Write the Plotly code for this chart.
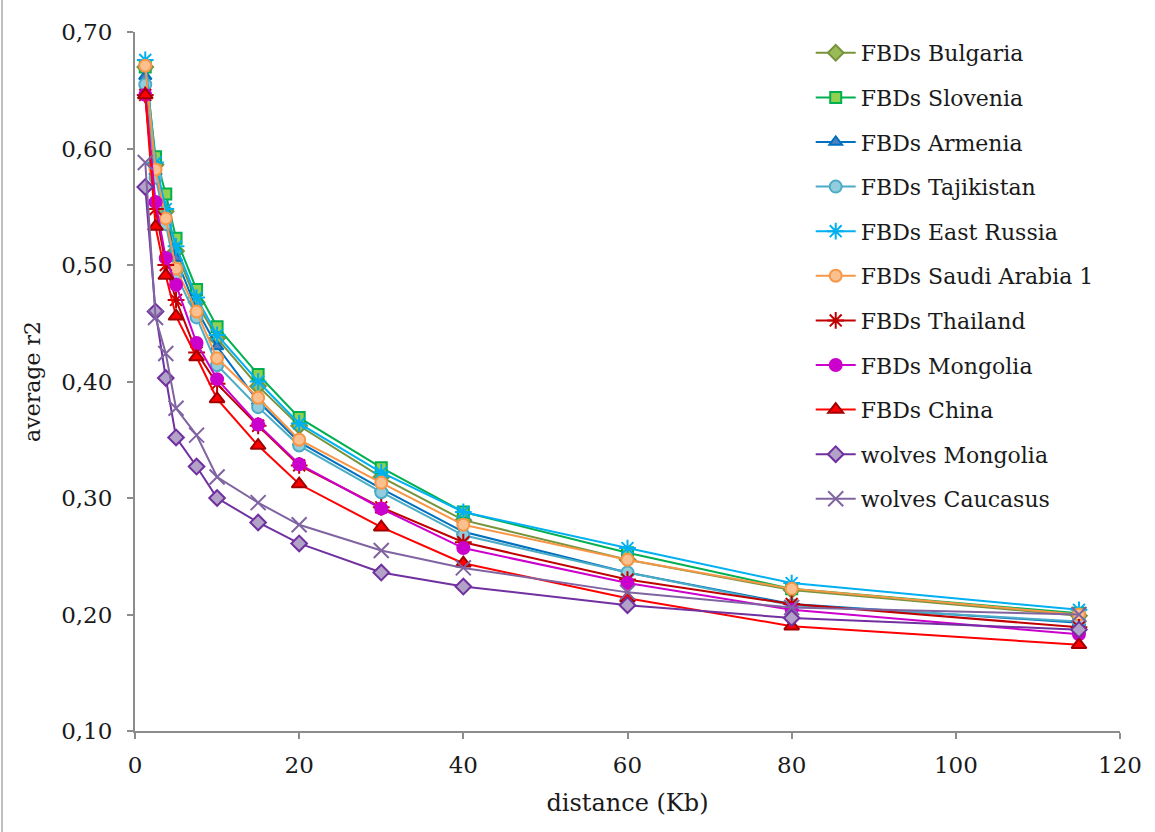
import plotly.graph_objects as go

distance_kb = [1.25, 2.5, 3.75, 5, 7.5, 10, 15, 20, 30, 40, 60, 80, 115]

series_names = ["FBDs Bulgaria", "FBDs Slovenia", "FBDs Armenia", "FBDs Tajikistan",
                "FBDs East Russia", "FBDs Saudi Arabia 1", "FBDs Thailand", "FBDs Mongolia",
                "FBDs China", "wolves Mongolia", "wolves Caucasus"]

bulgaria = [0.670, 0.586, 0.546, 0.512, 0.468, 0.437, 0.396, 0.362, 0.318, 0.281, 0.247, 0.221, 0.199]
slovenia = [0.670, 0.593, 0.561, 0.523, 0.479, 0.447, 0.406, 0.369, 0.326, 0.288, 0.253, 0.222, 0.201]
armenia = [0.662, 0.580, 0.540, 0.506, 0.462, 0.430, 0.383, 0.348, 0.308, 0.271, 0.236, 0.209, 0.193]
tajikistan = [0.655, 0.575, 0.535, 0.492, 0.455, 0.414, 0.378, 0.345, 0.305, 0.268, 0.236, 0.208, 0.194]
east_russia = [0.676, 0.588, 0.548, 0.516, 0.472, 0.440, 0.400, 0.364, 0.322, 0.288, 0.257, 0.227, 0.204]
saudi_arabia = [0.671, 0.582, 0.540, 0.497, 0.460, 0.420, 0.386, 0.350, 0.313, 0.277, 0.247, 0.222, 0.200]
thailand = [0.646, 0.548, 0.500, 0.470, 0.425, 0.398, 0.362, 0.328, 0.292, 0.262, 0.230, 0.209, 0.189]
mongolia = [0.646, 0.554, 0.506, 0.483, 0.433, 0.402, 0.363, 0.329, 0.291, 0.257, 0.227, 0.204, 0.183]
china = [0.646, 0.533, 0.491, 0.456, 0.421, 0.385, 0.345, 0.312, 0.275, 0.244, 0.214, 0.190, 0.174]
wolves_mongolia = [0.567, 0.460, 0.403, 0.352, 0.327, 0.300, 0.279, 0.261, 0.236, 0.224, 0.208, 0.197, 0.187]
wolves_caucasus = [0.588, 0.455, 0.424, 0.377, 0.354, 0.318, 0.296, 0.277, 0.255, 0.240, 0.219, 0.206, 0.200]

values = [bulgaria, slovenia, armenia, tajikistan, east_russia, saudi_arabia,
          thailand, mongolia, china, wolves_mongolia, wolves_caucasus]

y_ticks = [0.1, 0.2, 0.3, 0.4, 0.5, 0.6, 0.7]
x_ticks = [0, 20, 40, 60, 80, 100, 120]

styles = [
    dict(line="#77933C", symbol="diamond", fill="#9BBB59", edge="#77933C", size=12),
    dict(line="#00B050", symbol="square", fill="#92D050", edge="#00B050", size=11),
    dict(line="#0070C0", symbol="triangle-up", fill="#4F81BD", edge="#0070C0", size=11),
    dict(line="#4BACC6", symbol="circle", fill="#93CDDD", edge="#4BACC6", size=12),
    dict(line="#00B0F0", symbol="asterisk-open", fill="#00B0F0", edge="#00B0F0", size=14),
    dict(line="#F79646", symbol="circle", fill="#FAC090", edge="#F79646", size=12),
    dict(line="#C00000", symbol="asterisk-open", fill="#C00000", edge="#C00000", size=14),
    dict(line="#CC00CC", symbol="circle", fill="#CC00CC", edge="#CC00CC", size=12),
    dict(line="#FF0000", symbol="triangle-up", fill="#FF0000", edge="#A00000", size=13),
    dict(line="#7030A0", symbol="diamond", fill="#B3A2C7", edge="#7030A0", size=12),
    dict(line="#8064A2", symbol="x-thin-open", fill="#8064A2", edge="#8064A2", size=15),
]

fig = go.Figure()
for i, (name, vals, st) in enumerate(zip(series_names, values, styles)):
    fig.add_trace(go.Scatter(
        x=distance_kb, y=vals, name=name, mode="lines+markers",
        legendgroup=f"g{i}",
        line=dict(color=st["line"], width=2),
        marker=dict(symbol=st["symbol"], size=st["size"], color=st["fill"],
                    line=dict(color=st["edge"], width=2)),
    ))

font_family = "DejaVu Serif"
axis_color = "#8C8C8C"
text_color = "#1A1A1A"

fig.update_layout(
    width=1155, height=832,
    margin=dict(l=135, r=35, t=32, b=101),
    paper_bgcolor="white", plot_bgcolor="white",
    separators=",.",
    font=dict(family=font_family, size=22, color=text_color),
    showlegend=True,
    legend=dict(x=0.686, y=1.0, xanchor="left", yanchor="top",
                font=dict(family=font_family, size=22, color=text_color),
                tracegroupgap=13, bgcolor="rgba(0,0,0,0)", itemwidth=40),
    xaxis=dict(range=[0, 120], tickvals=x_ticks, showgrid=False, zeroline=False,
               showline=True, linecolor=axis_color, linewidth=2,
               ticks="outside", ticklen=6, tickcolor=axis_color, tickwidth=2,
               ticklabelstandoff=6,
               tickfont=dict(family=font_family, size=23, color=text_color),
               title=dict(text="distance (Kb)", font=dict(family=font_family, size=24, color=text_color),
                          standoff=18)),
    yaxis=dict(range=[0.1, 0.7], tickvals=y_ticks, tickformat=".2f", showgrid=False, zeroline=False,
               showline=True, linecolor=axis_color, linewidth=2,
               ticks="outside", ticklen=6, tickcolor=axis_color, tickwidth=2,
               ticklabelstandoff=10,
               tickfont=dict(family=font_family, size=23, color=text_color),
               title=dict(text="average r2", font=dict(family=font_family, size=22, color=text_color),
                          standoff=14)),
    shapes=[dict(type="line", xref="paper", yref="paper",
                 x0=-133/985, x1=-133/985, y0=-0.2, y1=1.1,
                 line=dict(color="#BFBFBF", width=2))],
)

fig.write_html("out.html")
